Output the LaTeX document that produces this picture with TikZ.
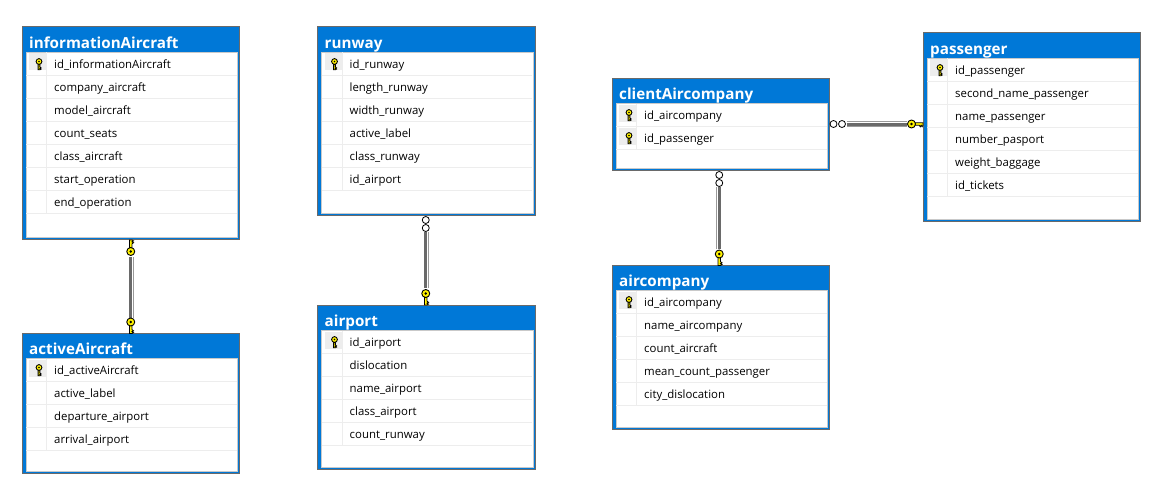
\documentclass[tikz,border=0pt]{standalone}
\usepackage{fontspec}
\setmainfont{Open Sans}
\definecolor{tableblue}{HTML}{0078D7}
\definecolor{tableedge}{HTML}{6A6A6A}
\definecolor{rowline}{HTML}{EDEDED}
\definecolor{keyfill}{HTML}{FFF200}
\tikzset{
  tablebox/.style={draw=tableedge,line width=1pt,fill=tableblue,inner sep=0pt,outer sep=0pt,anchor=north west,minimum width=217.5pt},
  tablebody/.style={draw=rowline!85!black,line width=.6pt,fill=white,inner sep=0pt,anchor=north west,minimum width=211.5pt},
  tabletitle/.style={anchor=base west,inner sep=0pt,text=white,font=\bfseries\fontsize{15.2}{16}\selectfont},
  tablefield/.style={anchor=base west,inner sep=0pt,text=black,font=\fontsize{11.4}{14}\selectfont},
  relline/.style={draw=tableedge,line width=3pt},
  relcase/.style={draw=black!40,line width=5.8pt},
  relgap/.style={draw=white,line width=4.6pt},
  manyring/.style={circle,draw=black,fill=white,line width=.8pt,inner sep=0pt,minimum size=7pt},
  pics/keyicon/.style={code={
    \draw[black,fill=keyfill,line width=.8pt,line join=miter]
      (3.4,-1.2) -- (11.5,-1.2) -- (11.5,1.2) -- (10.6,2.8) -- (9.6,1.2) -- (8.8,2.8) -- (7.6,1.2) -- (3.4,1.2) -- cycle;
    \draw[black,fill=keyfill,line width=.9pt] (0,0) circle (4pt);
    \fill[black] (0,0) circle (1.3pt);
  }},
}
% name, left, top, height, keys, title, fields
\newcommand{\dbtable}[7]{
  \node[tablebox,minimum height=#4pt] (#1) at (#2,#3) {};
  \node[tablebody,minimum height={#4-27pt}] (#1-body) at ({#2+3.5},{#3+25}) {};
  \node[tabletitle] (#1-title) at ({#2+7},{#3+21.2}) {#6};
  \foreach \fieldname [count=\n] in {#7} {
    \draw[rowline] ({#2+4},{#3+25.5+23*\n}) -- ({#2+214.5},{#3+25.5+23*\n});
    \draw[rowline] ({#2+24.5},{#3+2.5+23*\n}) -- ({#2+24.5},{#3+25.5+23*\n});
    \node[tablefield] (#1-\n) at ({#2+32},{#3+18.3+23*\n}) {\fieldname};
    \ifnum\n>#5\else
      \fill[rowline] ({#2+7},{#3+3.5+23*\n}) rectangle ({#2+24},{#3+20.5+23*\n});
      \pic[rotate=-90,yscale=-1,scale=.72] at ({#2+17},{#3+11.5+23*\n}) {keyicon};
    \fi
  }
}
\begin{document}
\begin{tikzpicture}[x=1pt,y=-1pt]
  \useasboundingbox (0,0) rectangle (1167,495);
  \dbtable{informationAircraft}{22}{27}{212}{1}{informationAircraft}
    {id\_informationAircraft,company\_aircraft,model\_aircraft,count\_seats,class\_aircraft,start\_operation,end\_operation}
  \dbtable{activeAircraft}{22}{333}{140}{1}{activeAircraft}
    {id\_activeAircraft,active\_label,departure\_airport,arrival\_airport}
  \dbtable{runway}{317.5}{27}{188}{1}{runway}
    {id\_runway,length\_runway,width\_runway,active\_label,class\_runway,id\_airport}
  \dbtable{airport}{317.5}{305}{164}{1}{airport}
    {id\_airport,dislocation,name\_airport,class\_airport,count\_runway}
  \dbtable{clientAircompany}{612}{78}{92}{2}{clientAircompany}
    {id\_aircompany,id\_passenger}
  \dbtable{aircompany}{612}{265}{164}{1}{aircompany}
    {id\_aircompany,name\_aircompany,count\_aircraft,mean\_count\_passenger,city\_dislocation}
  \dbtable{passenger}{923}{33}{188}{1}{passenger}
    {id\_passenger,second\_name\_passenger,name\_passenger,number\_pasport,weight\_baggage,id\_tickets}
  % informationAircraft - activeAircraft
  \foreach \relstyle in {relcase,relgap,relline}
    \draw[\relstyle] ([yshift=-18pt]informationAircraft.south) -- ([yshift=15pt]activeAircraft.north);
  \pic[rotate=90] at ([yshift=-12.5pt]informationAircraft.south) {keyicon};
  \pic[rotate=-90,yscale=-1] at ([yshift=11pt]activeAircraft.north) {keyicon};
  % runway - airport
  \foreach \relstyle in {relcase,relgap,relline}
    \draw[\relstyle] ([xshift=-0.5pt,yshift=-17pt]runway.south) -- ([xshift=-0.5pt,yshift=17pt]airport.north);
  \node[manyring] (runwayring1) at ([xshift=-0.5pt,yshift=-5pt]runway.south) {};
  \node[manyring] (runwayring2) at ([xshift=-0.5pt,yshift=-13pt]runway.south) {};
  \pic[rotate=-90,yscale=-1] at ([xshift=-0.5pt,yshift=11.5pt]airport.north) {keyicon};
  % clientAircompany - aircompany
  \foreach \relstyle in {relcase,relgap,relline}
    \draw[\relstyle] ([xshift=-1.5pt,yshift=-17pt]clientAircompany.south) -- ([xshift=-1.5pt,yshift=16pt]aircompany.north);
  \node[manyring] (clientring1) at ([xshift=-1.5pt,yshift=-5pt]clientAircompany.south) {};
  \node[manyring] (clientring2) at ([xshift=-1.5pt,yshift=-13pt]clientAircompany.south) {};
  \pic[rotate=-90,yscale=-1] at ([xshift=-1.5pt,yshift=11pt]aircompany.north) {keyicon};
  % clientAircompany - passenger
  \coordinate (passengerend) at (clientAircompany.east -| passenger.west);
  \foreach \relstyle in {relcase,relgap,relline}
    \draw[\relstyle] ([xshift=17pt]clientAircompany.east) -- ([xshift=-16pt]passengerend);
  \node[manyring] (passengerring1) at ([xshift=4pt]clientAircompany.east) {};
  \node[manyring] (passengerring2) at ([xshift=12.5pt]clientAircompany.east) {};
  \pic at ([xshift=-11.5pt]passengerend) {keyicon};
\end{tikzpicture}
\end{document}
